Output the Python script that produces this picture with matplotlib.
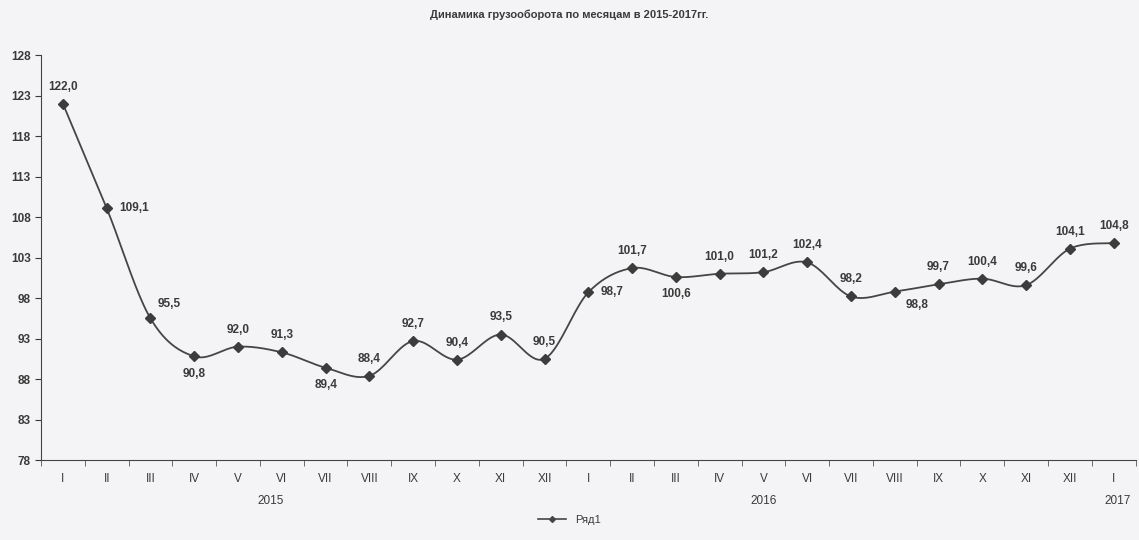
import numpy as np
import matplotlib.pyplot as plt

months = ["I", "II", "III", "IV", "V", "VI", "VII", "VIII", "IX", "X", "XI", "XII",
          "I", "II", "III", "IV", "V", "VI", "VII", "VIII", "IX", "X", "XI", "XII",
          "I"]
values = [122.0, 109.1, 95.5, 90.8, 92.0, 91.3, 89.4, 88.4, 92.7, 90.4, 93.5, 90.5,
          98.7, 101.7, 100.6, 101.0, 101.2, 102.4, 98.2, 98.8, 99.7, 100.4, 99.6, 104.1,
          104.8]
years = ["2015", "2016", "2017"]
year_pos = [4.75, 16.0, 24.1]
# where the label sits relative to its point
label_side = ["up", "right", "upright", "down", "up", "up", "down", "up", "up", "up",
              "up", "up", "right", "up", "down", "up", "up", "up", "up", "downright",
              "up", "up", "up", "up", "up"]
y_ticks = [78, 83, 88, 93, 98, 103, 108, 113, 118, 123, 128]

plt.rcParams['font.family'] = ['Liberation Sans', 'DejaVu Sans']
TXT = "#3a3a3a"


def smooth(x, y, n=20):
    # excel-like smoothed line (cardinal spline through the points)
    x = np.asarray(x, float)
    y = np.asarray(y, float)
    px, py = [], []
    for i in range(len(x) - 1):
        x0, y0 = (x[i - 1], y[i - 1]) if i > 0 else (x[i], y[i])
        x3, y3 = (x[i + 2], y[i + 2]) if i + 2 < len(x) else (x[i + 1], y[i + 1])
        x1, y1, x2, y2 = x[i], y[i], x[i + 1], y[i + 1]
        c1x, c1y = x1 + (x2 - x0) / 6, y1 + (y2 - y0) / 6
        c2x, c2y = x2 - (x3 - x1) / 6, y2 - (y3 - y1) / 6
        t = np.linspace(0, 1, n, endpoint=False)
        b0, b1, b2, b3 = (1 - t) ** 3, 3 * t * (1 - t) ** 2, 3 * t ** 2 * (1 - t), t ** 3
        px.extend(b0 * x1 + b1 * c1x + b2 * c2x + b3 * x2)
        py.extend(b0 * y1 + b1 * c1y + b2 * c2y + b3 * y2)
    px.append(x[-1])
    py.append(y[-1])
    return np.array(px), np.array(py)


def main():
    fig = plt.figure(figsize=(11.39, 5.4), dpi=100)
    fig.patch.set_facecolor("#f4f4f6")
    ax = fig.add_axes([0.036, 0.148, 0.961, 0.75])
    ax.set_facecolor("#f4f4f6")

    x = np.arange(len(values))
    sx, sy = smooth(x, values)
    ax.plot(sx, sy, color="#454545", lw=1.3)
    ax.plot(x, values, ls="none", marker="D", ms=5, color="#3c3c3c")

    offsets = {"up": (0, 8, "center", "bottom"), "down": (0, -8, "center", "top"),
               "right": (9, 0, "left", "center"), "upright": (5, 6, "left", "bottom"),
               "downright": (8, -5, "left", "top")}
    for xi, v, side in zip(x, values, label_side):
        dx, dy, ha, va = offsets[side]
        ax.annotate(("%.1f" % v).replace(".", ","), (xi, v), xytext=(dx, dy),
                    textcoords="offset points", ha=ha, va=va, fontsize=8.5,
                    fontweight="bold", color=TXT)

    ax.set_xlim(-0.5, len(values) - 0.5)
    ax.set_ylim(78, 128)
    ax.set_yticks(y_ticks)
    ax.tick_params(axis="y", labelsize=8.5, colors=TXT, length=4)
    ax.set_xticks(x)
    ax.set_xticklabels(months)
    ax.tick_params(axis="x", labelsize=8.5, colors=TXT, length=0, pad=9)
    ax.set_xticks(np.arange(-0.5, len(values), 1), minor=True)
    ax.tick_params(axis="x", which="minor", length=4, color="#555")
    for lab in ax.get_yticklabels():
        lab.set_fontweight("bold")

    for s in ["top", "right"]:
        ax.spines[s].set_visible(False)
    ax.spines["left"].set_color("#444")
    ax.spines["bottom"].set_color("#444")

    for yr, p in zip(years, year_pos):
        ax.text(p, -0.085, yr, transform=ax.get_xaxis_transform(), ha="center",
                va="top", fontsize=8.5, color=TXT)

    fig.text(0.5, 0.972, "Динамика грузооборота по месяцам в 2015-2017гг.",
             ha="center", va="center", fontsize=8, fontweight="bold", color=TXT)

    ax.plot([], [], color="#454545", lw=1.2, marker="D", ms=3, label="Ряд1")
    fig.legend(loc="center", bbox_to_anchor=(0.5, 0.037), frameon=False, fontsize=8,
               handlelength=2.5, labelcolor=TXT)

    fig.savefig("out.png", dpi=100, facecolor=fig.get_facecolor())


if __name__ == "__main__":
    main()
